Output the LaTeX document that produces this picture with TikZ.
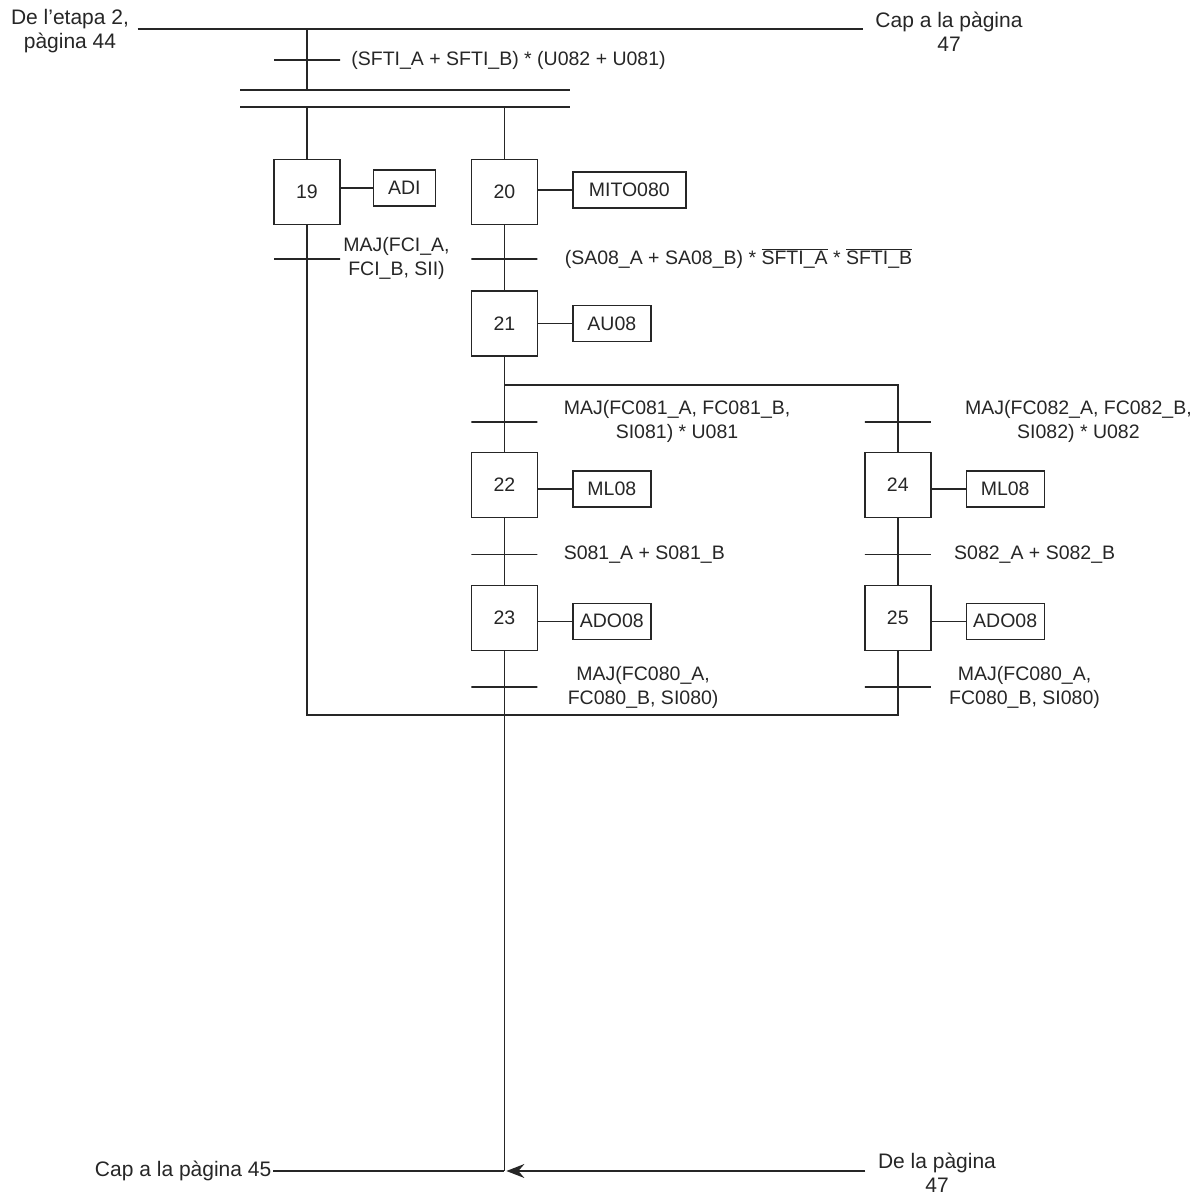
\documentclass[tikz,border=0pt]{standalone}
\usepackage{fontspec}
\setmainfont{Liberation Sans}
\usetikzlibrary{positioning,arrows.meta}

\begin{document}
\begin{tikzpicture}[
  x=1pt, y=-1pt,
  line width=1.4pt, color=black!85,
  font=\fontsize{19.5}{24}\selectfont,
  node distance=30pt,
  etapa/.style={draw, minimum width=66pt, minimum height=65pt, inner sep=0pt},
  accio/.style={draw, minimum width=78pt, minimum height=36pt, inner sep=2pt},
  trans/.style={draw, minimum width=66pt, minimum height=0pt, inner sep=0pt},
  cond/.style={align=center, inner sep=2pt},
  pag/.style={align=center, inner xsep=12pt, inner ysep=2pt, font=\fontsize{21}{23.5}\selectfont},
]
\useasboundingbox (0,0) rectangle (1203,1198);

% entrades i sortides de pagina
\node[pag, inner xsep=8pt] (de44) at (70,31) {De l'etapa 2,\\pàgina 44};
\node[pag] (cap47) at (949,32) {Cap a la pàgina\\47};
\coordinate (dalt) at (307,29);
\draw (de44.east |- dalt) -- (cap47.west |- dalt);

\node[trans] (t0) at (307,60) {};
\node[cond, right=8pt of t0] (c0) {(SFTI\_A + SFTI\_B) * (U082 + U081)};

% doble linia de simultaneitat
\coordinate (s1a) at (240,90);
\coordinate (s1b) at (570,90);
\coordinate (s2a) at (240,107);
\coordinate (s2b) at (570,107);
\draw (s1a) -- (s1b);
\draw (s2a) -- (s2b);
\draw (dalt) -- (dalt |- s1a);

% etapes
\node[etapa] (e19) at (307,192) {19};
\node[etapa, right=130pt of e19] (e20) {20};
\node[etapa, below=65pt of e20] (e21) {21};
\node[etapa, below=95pt of e21] (e22) {22};
\node[etapa, below=67pt of e22] (e23) {23};
\node[etapa, right=326pt of e22] (e24) {24};
\node[etapa, below=67pt of e24] (e25) {25};

% accions
\node[accio, minimum width=62pt, right=32pt of e19, yshift=4pt] (a19) {ADI};
\node[accio, minimum width=113pt, right=34pt of e20, yshift=2pt] (a20) {MITO080};
\node[accio, right=34pt of e21] (a21) {AU08};
\node[accio, right=34pt of e22, yshift=-4pt] (a22) {ML08};
\node[accio, right=34pt of e23, yshift=-3pt] (a23) {ADO08};
\node[accio, right=34pt of e24, yshift=-4pt] (a24) {ML08};
\node[accio, right=34pt of e25, yshift=-3pt] (a25) {ADO08};
\foreach \e in {19,20,...,25}
  \draw (e\e.east |- a\e) -- (a\e);

% transicions
\node[trans, below=33pt of e19] (t19) {};
\node[cond, right=0pt of t19] (c19) {MAJ(FCI\_A,\\FCI\_B, SII)};
\node[trans, below=33pt of e20] (t20) {};
\node[cond, right=24pt of t20] (c20) {(SA08\_A + SA08\_B) * \(\overline{\mbox{SFTI\_A}}\) * \(\overline{\mbox{SFTI\_B}}\)};
\node[trans, above=29pt of e22] (t22) {};
\node[cond, right=23pt of t22] (c22) {MAJ(FC081\_A, FC081\_B,\\SI081) * U081};
\node[trans, below=36pt of e22] (t23) {};
\node[cond, right=23pt of t23] (c23) {S081\_A + S081\_B};
\node[trans, below=35pt of e23] (t23b) {};
\node[cond, right=27pt of t23b] (c23b) {MAJ(FC080\_A,\\FC080\_B, SI080)};
\node[trans, above=29pt of e24] (t24) {};
\node[cond, right=31pt of t24] (c24) {MAJ(FC082\_A, FC082\_B,\\SI082) * U082};
\node[trans, below=36pt of e24] (t25) {};
\node[cond, right=20pt of t25] (c25) {S082\_A + S082\_B};
\node[trans, below=35pt of e25] (t25b) {};
\node[cond, right=15pt of t25b] (c25b) {MAJ(FC080\_A,\\FC080\_B, SI080)};

% enllacos
\coordinate (div) at (700,385);
\coordinate (ret) at (700,715);
\draw (e19 |- s2a) -- (e19);
\draw (e20 |- s2a) -- (e20);
\draw (e20) -- (e21);
\draw (e21) -- (e22);
\draw (e22) -- (e23);
\draw (e21 |- div) -- (e24 |- div) -- (e24);
\draw (e24) -- (e25);
\draw (e19) -- (e19 |- ret) -- (e25 |- ret) -- (e25);

% sortida inferior
\node[pag, inner xsep=1pt, anchor=east] (cap45) at (273,1171) {Cap a la pàgina 45};
\node[pag] (de47) at (937,1173) {De la pàgina\\47};
\coordinate (fi) at (e23 |- cap45);
\draw (e23) -- (fi);
\draw (cap45) -- (fi);
\draw[-{Stealth[length=18pt,width=14pt,inset=6pt]}] (de47.west |- fi) -- ([xshift=2pt]fi);
\end{tikzpicture}
\end{document}
